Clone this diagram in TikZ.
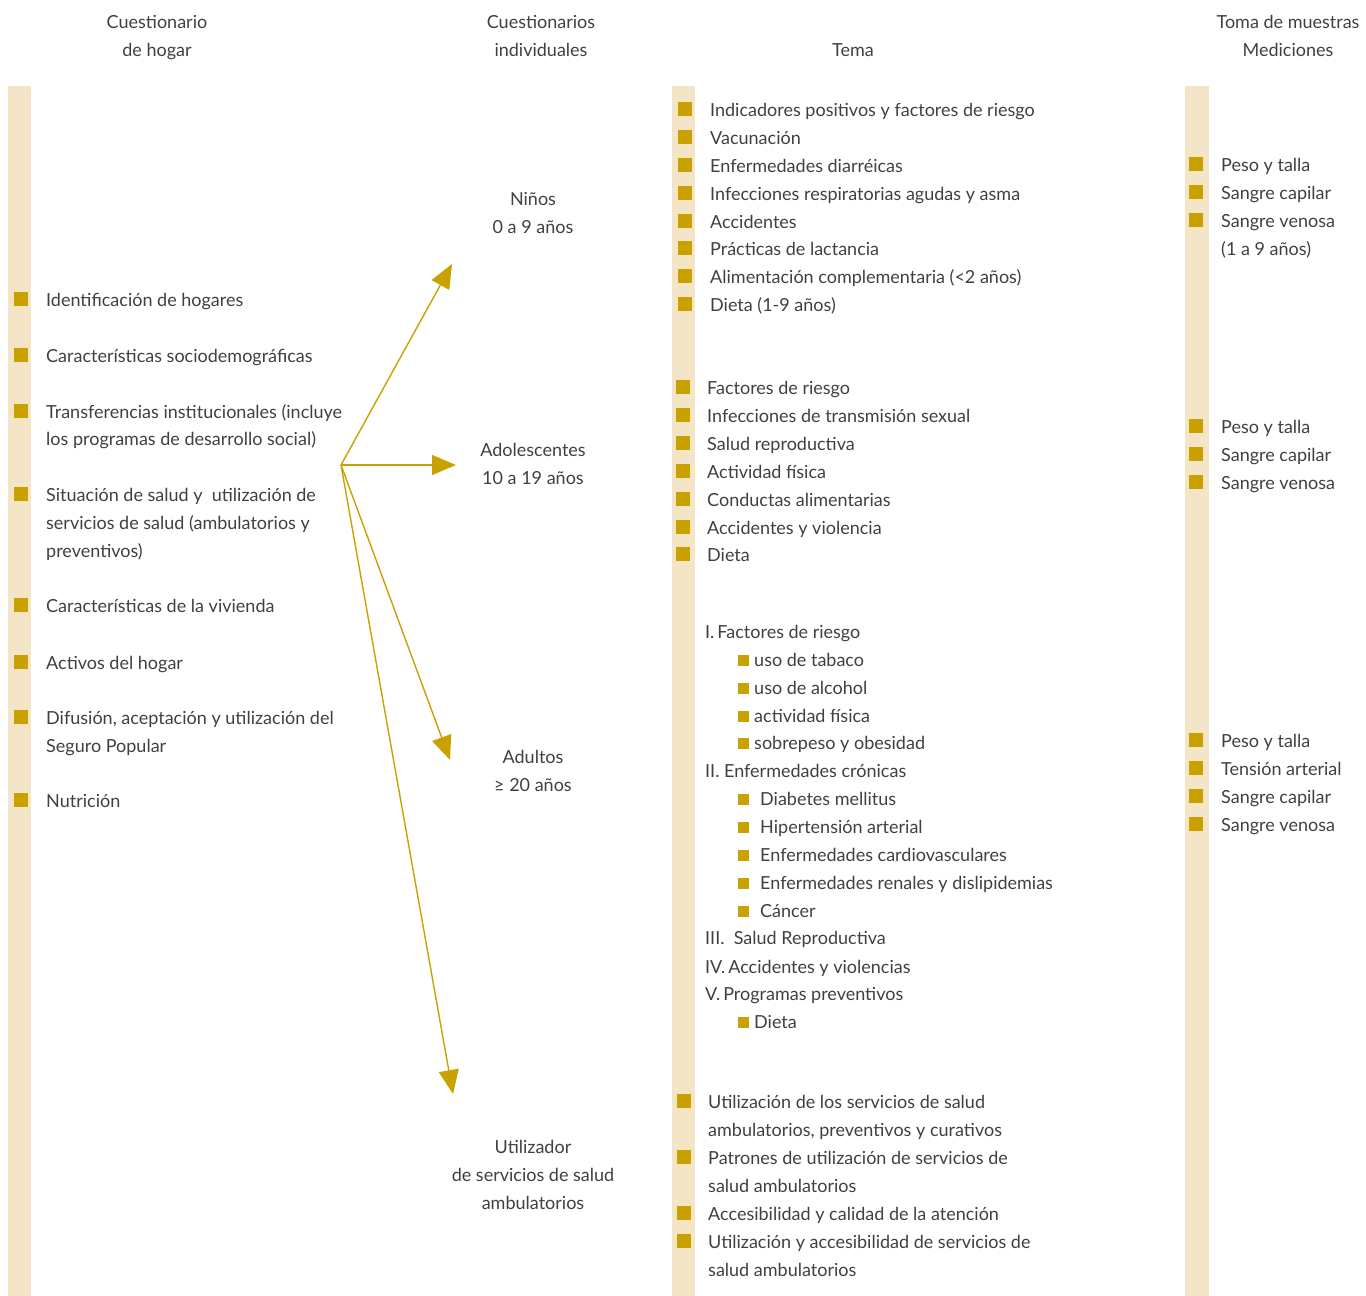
\documentclass[tikz,border=0pt]{standalone}
\usepackage{fontspec}
\setmainfont{Lato}
\usetikzlibrary{arrows.meta}
\definecolor{gold}{HTML}{C9A100}
\definecolor{beige}{HTML}{F3E5C5}
\definecolor{textgray}{HTML}{404040}
\tikzset{
  txt/.style={anchor=base west, inner sep=0pt, font=\fontsize{18}{22}\selectfont, text=textgray},
  hdr/.style={anchor=base, inner sep=0pt, font=\fontsize{18}{22}\selectfont, text=textgray},
  bul/.style={fill=gold, draw=none, minimum size=14pt, inner sep=0pt},
  sbul/.style={fill=gold, draw=none, minimum size=11pt, inner sep=0pt},
  bar/.style={fill=beige, draw=none},
  arr/.style={draw=gold, line width=1.4pt, -{Triangle[length=24pt,width=20pt]}, shorten >=0pt}
}
\begin{document}
\begin{tikzpicture}[x=1pt,y=-1pt]
\path[use as bounding box] (0,0) rectangle (1366,1296);
% bars
\fill[bar] (8,86) rectangle (31,1296);
\fill[bar] (672,86) rectangle (695,1296);
\fill[bar] (1185,86) rectangle (1209,1296);
% headers
\node[hdr] (h1a) at (157,28) {Cuestionario};
\node[hdr] (h1b) at (157,56) {de hogar};
\node[hdr] (h2a) at (541,28) {Cuestionarios};
\node[hdr] (h2b) at (541,56) {individuales};
\node[hdr] (h3) at (853,56) {Tema};
\node[hdr] (h4a) at (1288,28) {Toma de muestras};
\node[hdr] (h4b) at (1288,56) {Mediciones};
% left column
\node[bul] (lb1) at (21,299) {}; \node[txt] (l1) at (46,306) {Identificación de hogares};
\node[bul] (lb2) at (21,355) {}; \node[txt] (l2) at (46,362) {Características sociodemográficas};
\node[bul] (lb3) at (21,411) {}; \node[txt] (l3a) at (46,418) {Transferencias institucionales (incluye};
\node[txt] (l3b) at (46,445) {los programas de desarrollo social)};
\node[bul] (lb4) at (21,494) {}; \node[txt] (l4a) at (46,501) {Situación de salud y\ \ utilización de};
\node[txt] (l4b) at (46,529) {servicios de salud (ambulatorios y};
\node[txt] (l4c) at (46,557) {preventivos)};
\node[bul] (lb5) at (21,605) {}; \node[txt] (l5) at (46,612) {Características de la vivienda};
\node[bul] (lb6) at (21,662) {}; \node[txt] (l6) at (46,669) {Activos del hogar};
\node[bul] (lb7) at (21,717) {}; \node[txt] (l7a) at (46,724) {Difusión, aceptación y utilización del};
\node[txt] (l7b) at (46,752) {Seguro Popular};
\node[bul] (lb8) at (21,800) {}; \node[txt] (l8) at (46,807) {Nutrición};
% middle labels
\node[hdr] (m1a) at (533,205) {Niños};
\node[hdr] (m1b) at (533,233) {0 a 9 años};
\node[hdr] (m2a) at (533,456) {Adolescentes};
\node[hdr] (m2b) at (533,484) {10 a 19 años};
\node[hdr] (m3a) at (533,763) {Adultos};
\node[hdr] (m3b) at (533,791) {≥ 20 años};
\node[hdr] (m4a) at (533,1153) {Utilizador};
\node[hdr] (m4b) at (533,1181) {de servicios de salud};
\node[hdr] (m4c) at (533,1209) {ambulatorios};
% arrows
\coordinate (o) at (341,465);
\coordinate (t1) at (452,264);
\coordinate (t2) at (456,465);
\coordinate (t3) at (450,760);
\coordinate (t4) at (453,1094);
\draw[arr] (o) -- (t1);
\draw[arr] (o) -- (t2);
\draw[arr] (o) -- (t3);
\draw[arr] (o) -- (t4);
% Tema section 1
\foreach \y/\t [count=\i] in {109/{Indicadores positivos y factores de riesgo},137/{Vacunación},165/{Enfermedades diarréicas},193/{Infecciones respiratorias agudas y asma},221/{Accidentes},248/{Prácticas de lactancia},276/{Alimentación complementaria (<2 años)},304/{Dieta (1-9 años)}}{
  \node[bul] (ab\i) at (685,\y) {};
  \node[txt] (a\i) at (710,\y+7) {\t};
}
% Tema section 2
\foreach \y/\t [count=\i] in {387/{Factores de riesgo},415/{Infecciones de transmisión sexual},443/{Salud reproductiva},471/{Actividad física},499/{Conductas alimentarias},527/{Accidentes y violencia},554/{Dieta}}{
  \node[bul] (bb\i) at (683,\y) {};
  \node[txt] (b\i) at (707,\y+7) {\t};
}
% Tema section 3
\node[txt] (c1) at (705,638) {I.\,Factores de riesgo};
\foreach \y/\t [count=\i] in {659/{uso de tabaco},687/{uso de alcohol},715/{actividad física},742/{sobrepeso y obesidad}}{
  \node[sbul] (cb\i) at (743,\y+1) {};
  \node[txt] (cs\i) at (754,\y+7) {\t};
}
\node[txt] (c2) at (705,777) {II. Enfermedades crónicas};
\foreach \y/\t [count=\i] in {798/{Diabetes mellitus},826/{Hipertensión arterial},854/{Enfermedades cardiovasculares},882/{Enfermedades renales y dislipidemias},910/{Cáncer}}{
  \node[sbul] (db\i) at (743,\y+1) {};
  \node[txt] (ds\i) at (760,\y+7) {\t};
}
\node[txt] (c3) at (705,944) {III.\ \ Salud Reproductiva};
\node[txt] (c4) at (705,973) {IV.\,Accidentes y violencias};
\node[txt] (c5) at (705,1000) {V.\,Programas preventivos};
\node[sbul] (eb1) at (743,1022) {};
\node[txt] (e1) at (754,1028) {Dieta};
% Tema section 4
\node[bul] (fb1) at (684,1101) {}; \node[txt] (f1a) at (708,1108) {Utilización de los servicios de salud};
\node[txt] (f1b) at (708,1136) {ambulatorios, preventivos y curativos};
\node[bul] (fb2) at (684,1157) {}; \node[txt] (f2a) at (708,1164) {Patrones de utilización de servicios de};
\node[txt] (f2b) at (708,1192) {salud ambulatorios};
\node[bul] (fb3) at (684,1213) {}; \node[txt] (f3) at (708,1220) {Accesibilidad y calidad de la atención};
\node[bul] (fb4) at (684,1241) {}; \node[txt] (f4a) at (708,1248) {Utilización y accesibilidad de servicios de};
\node[txt] (f4b) at (708,1276) {salud ambulatorios};
% right column
\foreach \y/\t [count=\i] in {164/{Peso y talla},192/{Sangre capilar},220/{Sangre venosa}}{
  \node[bul] (rb\i) at (1196,\y) {};
  \node[txt] (r\i) at (1221,\y+7) {\t};
}
\node[txt] (r4) at (1221,255) {(1 a 9 años)};
\foreach \y/\t [count=\i] in {426/{Peso y talla},454/{Sangre capilar},482/{Sangre venosa}}{
  \node[bul] (sb\i) at (1196,\y) {};
  \node[txt] (s\i) at (1221,\y+7) {\t};
}
\foreach \y/\t [count=\i] in {740/{Peso y talla},768/{Tensión arterial},796/{Sangre capilar},824/{Sangre venosa}}{
  \node[bul] (ub\i) at (1196,\y) {};
  \node[txt] (u\i) at (1221,\y+7) {\t};
}
\end{tikzpicture}
\end{document}
